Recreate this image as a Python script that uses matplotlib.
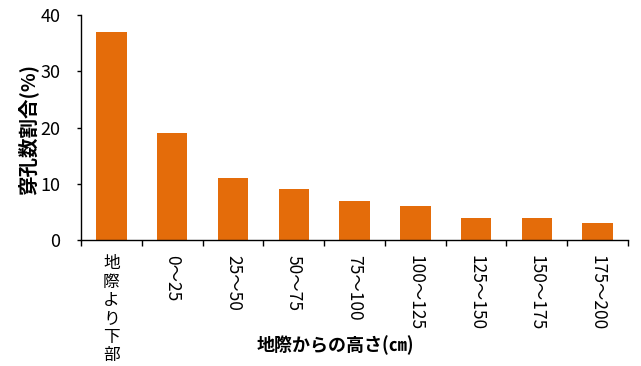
import matplotlib
matplotlib.use("Agg")
import matplotlib.pyplot as plt
import numpy as np

plt.rcParams['font.family'] = ['Noto Sans CJK JP', 'DejaVu Sans']

CATS = ["地際より下部", "0～25", "25～50", "50～75", "75～100",
        "100～125", "125～150", "150～175", "175～200"]
VALUES = [37, 19, 11, 9, 7, 6, 4, 4, 3]
COLOR = "#E46C0A"

fig = plt.figure(figsize=(6.41, 3.66), dpi=100)
ax = fig.add_axes([0.1264, 0.344, 0.8534, 0.615])
x = np.arange(len(CATS))
ax.bar(x, VALUES, width=0.5, color=COLOR, zorder=2)

ax.set_xlim(-0.5, len(CATS) - 0.5)
ax.set_ylim(0, 40)
ax.set_yticks([0, 10, 20, 30, 40])
ax.tick_params(axis="y", direction="out", length=3, width=1, labelsize=13, pad=12)

# category labels centred, tick marks on category boundaries
ax.set_xticks(x)
ax.set_xticklabels([])
ax.tick_params(axis="x", which="major", length=0)
ax.set_xticks(np.arange(-0.5, len(CATS)), minor=True)
ax.tick_params(axis="x", which="minor", direction="out", length=4, width=1)

xform = ax.get_xaxis_transform()
for i, lab in enumerate(CATS):
    if i == 0:
        # upright vertical text, one character at a time (baseline-aligned)
        for k, ch in enumerate(lab):
            ax.annotate(ch, (i, -0.06), xycoords=xform, xytext=(0, -10.5 - 13.2 * k),
                        textcoords="offset points", ha="center", va="baseline",
                        fontsize=12, annotation_clip=False)
    else:
        ax.text(i, -0.065, lab, transform=xform,
                ha="center", va="top", rotation=-90, fontsize=12.5)

for s in ("top", "right"):
    ax.spines[s].set_visible(False)
for s in ("left", "bottom"):
    ax.spines[s].set_linewidth(1)

fig.text(0.044, 0.646, "穿孔数割合(%)", rotation=90, ha="center", va="center",
         fontsize=14, fontweight="bold")
fig.text(0.523, 0.057, "地際からの高さ(㎝)", ha="center", va="center",
         fontsize=13, fontweight="bold")

fig.savefig("out.png", dpi=100)
